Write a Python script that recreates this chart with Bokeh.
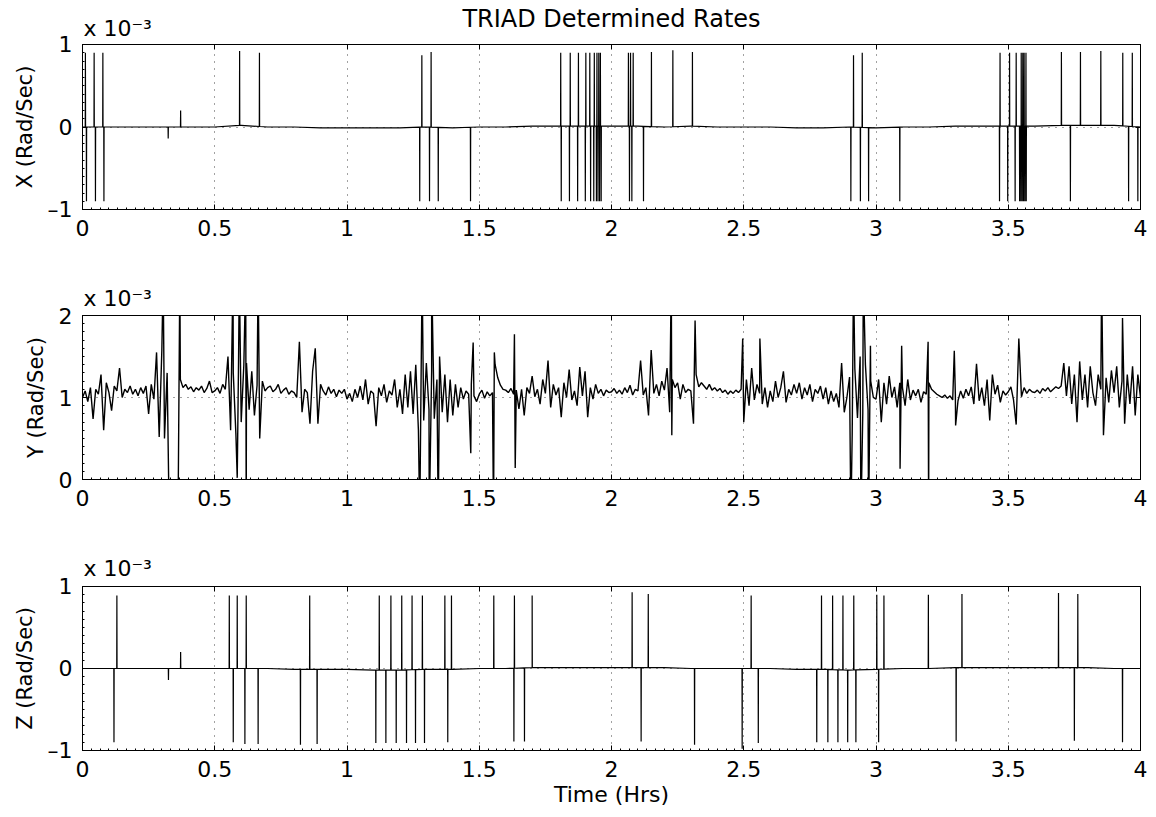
import numpy as np
from bokeh.plotting import figure
from bokeh.models import Range1d, FixedTicker, LinearAxis, Title
from bokeh.layouts import column
from bokeh.embed import file_html
from bokeh.resources import INLINE

# ---------------- data (rates in units of 1e-3 rad/s, time in hours) ----------------
BASE_T = [round(0.1 * i, 1) for i in range(41)]

X_base = [0, 0, 0, 0, 0, 0, 0.02, 0, 0, -0.01, -0.01, -0.01, -0.01, 0.0, -0.01, 0, 0,
          0.01, 0.01, 0.01, 0.01, 0.01, 0.0, 0.01, 0, 0, 0, -0.01, -0.01, 0, -0.01, 0,
          0, 0.01, 0.01, 0.01, 0.01, 0.02, 0.02, 0.02, 0]
X_spike_t = [0.011, 0.044, 0.077, 0.594, 0.669, 1.283, 1.318, 1.808, 1.844, 1.875,
             1.903, 1.918, 1.935, 1.945, 1.952, 1.958, 2.064, 2.072, 2.082, 2.151,
             2.232, 2.306, 2.915, 2.948, 3.469, 3.505, 3.530, 3.549, 3.555, 3.560,
             3.567, 3.701, 3.773, 3.850, 3.933, 3.969,
             0.015, 0.049, 0.081, 1.275, 1.312, 1.345, 1.467, 1.810, 1.841, 1.872,
             1.901, 1.921, 1.933, 1.943, 1.949, 1.955, 1.961, 2.068, 2.077, 2.121,
             2.905, 2.941, 2.972, 3.090, 3.467, 3.498, 3.526, 3.543, 3.548, 3.553,
             3.558, 3.563, 3.568, 3.735, 3.955, 3.990,
             0.324, 0.371]
X_spike_v = [0.90, 0.90, 0.90, 0.92, 0.90, 0.87, 0.91, 0.90, 0.90, 0.90,
             0.90, 0.90, 0.90, 0.90, 0.90, 0.90, 0.90, 0.90, 0.90, 0.91,
             0.93, 0.91, 0.87, 0.90, 0.90, 0.90, 0.90, 0.90, 0.90, 0.90,
             0.90, 0.91, 0.91, 0.92, 0.90, 0.90,
             -0.90, -0.90, -0.90, -0.90, -0.90, -0.90, -0.90, -0.90, -0.90, -0.90,
             -0.90, -0.90, -0.90, -0.90, -0.90, -0.90, -0.90, -0.90, -0.90, -0.90,
             -0.90, -0.90, -0.90, -0.90, -0.90, -0.90, -0.90, -0.90, -0.90, -0.90,
             -0.90, -0.90, -0.90, -0.90, -0.90, -0.90,
             -0.14, 0.20]

Z_base = [0, 0, 0, 0, 0, 0, 0, 0, -0.01, -0.01, -0.01, -0.02, -0.02, -0.01, -0.01, 0,
          0, 0.01, 0.01, 0.01, 0.01, 0.01, 0.01, 0, 0, 0, 0, -0.01, -0.01, -0.02, -0.01,
          0, 0, 0.01, 0.01, 0.01, 0.01, 0.01, 0.01, 0.0, 0]
Z_spike_t = [0.130, 0.555, 0.585, 0.619, 0.859, 1.122, 1.166, 1.207, 1.246, 1.285,
             1.370, 1.395, 1.555, 1.633, 1.700, 2.078, 2.139, 2.528, 2.794, 2.836,
             2.875, 2.916, 3.003, 3.030, 3.198, 3.325, 3.690, 3.763,
             0.119, 0.570, 0.614, 0.664, 0.824, 0.887, 1.109, 1.147, 1.186, 1.225,
             1.259, 1.293, 1.381, 1.631, 1.671, 2.112, 2.314, 2.494, 2.555, 2.776,
             2.818, 2.856, 2.893, 2.924, 3.010, 3.303, 3.750, 3.932,
             0.325, 0.371]
Z_spike_v = [0.89, 0.89, 0.89, 0.89, 0.89, 0.89, 0.89, 0.89, 0.89, 0.89,
             0.89, 0.89, 0.89, 0.89, 0.89, 0.93, 0.91, 0.89, 0.89, 0.89,
             0.89, 0.89, 0.90, 0.89, 0.90, 0.91, 0.92, 0.91,
             -0.90, -0.90, -0.92, -0.92, -0.93, -0.92, -0.91, -0.91, -0.91, -0.91,
             -0.91, -0.91, -0.90, -0.89, -0.89, -0.89, -0.93, -0.98, -0.91, -0.90,
             -0.90, -0.90, -0.90, -0.90, -0.90, -0.89, -0.88, -0.90,
             -0.14, 0.20]

# Y rate, sampled every 0.01 h (one row per 0.1 h)
Y_rows = [
    [1.00, 1.08, 0.95, 1.12, 0.74, 1.10, 1.04, 1.28, 0.60, 1.18],
    [1.06, 0.84, 1.14, 1.08, 1.36, 1.00, 1.10, 1.06, 1.14, 1.04],
    [1.10, 1.02, 1.12, 1.05, 1.14, 0.80, 1.16, 0.98, 1.55, 0.52],
    [1.58, 0.50, 1.30, -1.0, -1.0, -1.0, -1.0, 1.22, 1.12, 1.16],
    [1.10, 1.13, 1.07, 1.12, 1.09, 1.14, 1.06, 1.11, 1.20, 1.06],
    [1.08, 1.12, 1.05, 1.16, 1.10, 1.50, 0.60, 1.30, 0.55, 1.45],
    [0.70, 1.40, 1.42, 0.85, 1.32, 0.78, 1.15, 0.50, 1.20, 1.08],
    [1.12, 1.14, 1.07, 1.10, 1.16, 1.05, 1.09, 1.12, 1.04, 1.08],
    [1.06, 1.00, 1.68, 0.82, 1.10, 1.06, 0.68, 1.32, 1.60, 0.68],
    [1.16, 1.08, 1.03, 1.13, 1.05, 1.10, 1.01, 1.09, 1.05, 1.10],
    [0.98, 1.05, 0.95, 1.10, 1.00, 1.14, 0.97, 1.22, 0.92, 1.08],
    [1.05, 0.65, 1.12, 1.02, 1.16, 0.94, 1.08, 1.03, 1.22, 0.88],
    [1.10, 0.80, 1.28, 0.88, 1.32, 0.80, 1.40, 0.60, 1.20, 0.72],
    [1.42, 0.85, 1.32, 0.74, 1.22, 1.50, 0.82, 1.28, 0.70, 1.22],
    [0.78, 1.16, 0.88, 1.12, 0.98, 1.08, 1.04, 1.16, 1.02, 0.95],
    [1.04, 1.09, 0.99, 1.07, 1.02, 1.06, 1.40, 1.24, 1.15, 1.10],
    [1.09, 1.06, 1.11, 1.04, 1.09, 0.86, 1.10, 0.78, 1.12, 1.05],
    [1.26, 1.01, 1.10, 0.92, 1.22, 1.05, 1.45, 0.88, 1.16, 1.03],
    [1.12, 0.76, 1.18, 1.00, 1.34, 0.97, 1.08, 0.90, 1.37, 1.02],
    [1.32, 0.76, 1.12, 0.98, 1.16, 1.05, 1.10, 1.02, 1.09, 1.06],
    [1.07, 1.11, 1.05, 1.09, 1.04, 1.12, 1.06, 1.15, 1.03, 1.10],
    [1.08, 1.45, 1.03, 1.12, 0.78, 1.58, 1.05, 1.16, 1.02, 1.20],
    [1.09, 1.36, 0.82, 1.22, 1.12, 1.18, 0.98, 1.16, 1.06, 1.10],
    [1.08, 0.68, 1.28, 1.13, 1.18, 1.14, 1.10, 1.16, 1.09, 1.12],
    [1.08, 1.11, 1.06, 1.09, 1.04, 1.08, 1.05, 1.09, 1.06, 1.10],
    [0.70, 1.22, 0.90, 1.36, 0.97, 1.16, 1.05, 0.92, 1.12, 0.88],
    [1.08, 0.95, 1.20, 1.00, 1.12, 1.32, 0.94, 1.10, 1.03, 1.16],
    [1.05, 1.18, 0.98, 1.12, 1.03, 1.16, 0.95, 1.10, 1.05, 1.14],
    [0.98, 1.12, 0.92, 1.08, 0.95, 1.05, 0.88, 1.42, 0.82, 1.00],
    [1.25, 0.55, 1.35, 0.75, 1.50, 0.80, 1.40, 0.85, 1.20, 1.00],
    [0.98, 1.22, 0.70, 1.18, 0.92, 1.26, 1.00, 1.13, 0.88, 1.18],
    [1.12, 0.90, 1.22, 0.97, 1.09, 1.02, 1.10, 0.94, 1.07, 1.04],
    [1.18, 1.10, 1.07, 1.04, 1.02, 1.00, 1.03, 0.99, 1.02, 0.97],
    [1.04, 0.96, 1.08, 0.99, 1.10, 1.02, 1.13, 0.92, 1.41, 0.96],
    [1.12, 0.90, 1.22, 0.72, 1.28, 1.04, 1.15, 0.94, 1.08, 1.03],
    [1.07, 1.13, 0.97, 0.67, 1.72, 1.01, 1.12, 1.05, 1.10, 1.07],
    [1.06, 1.09, 1.05, 1.11, 1.08, 1.12, 1.07, 1.10, 1.13, 1.11],
    [1.14, 1.42, 1.02, 1.38, 0.92, 1.28, 0.70, 1.44, 0.97, 1.28],
    [0.88, 1.38, 1.06, 0.90, 1.28, 1.10, 0.54, 1.24, 0.94, 1.33],
    [1.06, 1.38, 0.88, 1.20, 0.68, 1.28, 0.92, 1.38, 0.78, 1.28],
]
Y_last = 1.00
Y_event_t = [0.305, 0.368, 0.569, 0.585, 0.593, 0.617, 0.619, 0.664,
             1.275, 1.284, 1.311, 1.320, 1.345, 1.468, 1.477, 1.554, 1.557,
             1.633, 1.636, 2.226, 2.228, 2.316, 2.496, 2.561,
             2.905, 2.915, 2.943, 2.952, 2.972, 2.979, 3.091, 3.097,
             3.197, 3.199, 3.296, 3.301, 3.853, 3.932]
Y_event_v = [2.5, 2.5, 2.5, 0.02, 2.5, 2.5, -0.5, 2.5,
             -0.5, 2.5, -0.5, 2.5, -0.5, 0.32, 1.67, -0.5, 1.55,
             1.77, 0.14, 2.5, 0.54, 1.94, 1.72, 1.72,
             -0.5, 2.5, -0.5, 2.5, -0.5, 1.63, 0.13, 1.63,
             1.68, -0.5, 1.57, 0.66, 2.5, 1.97]

X_TICKS = [0, 0.5, 1, 1.5, 2, 2.5, 3, 3.5, 4]
X_TICK_LABELS = ["0", "0.5", "1", "1.5", "2", "2.5", "3", "3.5", "4"]
SCALE_TEXT = "x 10\u207b\u00b3"
TITLE_TEXT = "TRIAD Determined Rates"

# ---------------- build series ----------------
def spike_series(base_t, base_v, st, sv, eps=0.0006):
    pts = list(zip(base_t, base_v))
    for t, v in zip(st, sv):
        b = float(np.interp(t, base_t, base_v))
        pts += [(t - eps, b), (t, v), (t + eps, b)]
    pts.sort(key=lambda q: q[0])
    return [q[0] for q in pts], [q[1] for q in pts]

xt, xv = spike_series(BASE_T, X_base, X_spike_t, X_spike_v)
zt, zv = spike_series(BASE_T, Z_base, Z_spike_t, Z_spike_v)

y_vals = [v for row in Y_rows for v in row] + [Y_last]
y_times = [i / 100 for i in range(len(y_vals))]
ypts = sorted(list(zip(y_times, y_vals)) + list(zip(Y_event_t, Y_event_v)), key=lambda q: q[0])
yt = [q[0] for q in ypts]
yv = [q[1] for q in ypts]

FONT = "DejaVu Sans"


def style_axis(ax, ticker, overrides):
    ax.ticker = ticker
    ax.axis_line_color = "black"
    ax.axis_line_width = 1
    ax.major_tick_in = 5
    ax.major_tick_out = 0
    ax.minor_tick_in = 2
    ax.minor_tick_out = 0
    ax.major_tick_line_color = "black"
    ax.minor_tick_line_color = "black"
    ax.major_label_overrides = overrides
    ax.major_label_text_font = FONT
    ax.major_label_text_font_size = "22px"
    ax.major_label_text_color = "black"
    ax.major_label_standoff = 10


def tick_only_axis(positions):
    # an axis with no labels: the tick marks are given as minor ticks
    ax = LinearAxis(ticker=FixedTicker(ticks=[], minor_ticks=positions))
    ax.axis_line_color = "black"
    ax.major_tick_in = 0
    ax.major_tick_out = 0
    ax.minor_tick_in = 5
    ax.minor_tick_out = 0
    ax.minor_tick_line_color = "black"
    ax.major_label_standoff = 0
    return ax


def make_fig(fh, top, bottom, yr, yticks, ylabels, ylabel, t, v, scale_standoff,
             xlabel=None, title=None):
    p = figure(frame_width=1058, frame_height=fh, x_range=Range1d(0, 4),
               y_range=Range1d(yr[0], yr[1]), output_backend="svg", toolbar_location=None,
               min_border_left=82, min_border_right=16, min_border_top=top,
               min_border_bottom=bottom, background_fill_color="white",
               border_fill_color="white")
    xticker = FixedTicker(ticks=X_TICKS, minor_ticks=[i / 30 for i in range(121)])
    yticker = FixedTicker(ticks=yticks, minor_ticks=[yr[0] + 0.1 * i for i in range(21)])
    xo = {}
    for tk, lb in zip(X_TICKS, X_TICK_LABELS):
        xo[tk] = lb
    yo = {}
    for tk, lb in zip(yticks, ylabels):
        yo[tk] = lb
    style_axis(p.xaxis[0], xticker, xo)
    style_axis(p.yaxis[0], yticker, yo)
    p.yaxis[0].axis_label = ylabel
    p.yaxis[0].axis_label_text_font = FONT
    p.yaxis[0].axis_label_text_font_size = "21px"
    p.yaxis[0].axis_label_text_font_style = "normal"
    p.yaxis[0].axis_label_text_color = "black"
    p.yaxis[0].axis_label_standoff = 8
    if xlabel:
        p.xaxis[0].axis_label = xlabel
        p.xaxis[0].axis_label_text_font = FONT
        p.xaxis[0].axis_label_text_font_size = "22px"
        p.xaxis[0].axis_label_text_font_style = "normal"
        p.xaxis[0].axis_label_text_color = "black"
        p.xaxis[0].axis_label_standoff = 2

    p.add_layout(tick_only_axis(X_TICKS), "above")
    p.add_layout(tick_only_axis(list(yticks)), "right")

    p.add_layout(Title(text=SCALE_TEXT, align="left", offset=1, vertical_align="bottom",
                       standoff=scale_standoff, text_font=FONT, text_font_size="22px",
                       text_font_style="normal", text_color="black"), "above")
    if title:
        p.add_layout(Title(text=title, align="center", vertical_align="bottom",
                           standoff=-46, text_font=FONT, text_font_size="24px",
                           text_font_style="normal", text_color="black"), "above")

    p.xgrid.ticker = xticker
    p.ygrid.ticker = yticker
    for g in (p.xgrid[0], p.ygrid[0]):
        g.grid_line_color = "#444444"
        g.grid_line_dash = "1 6"
        g.grid_line_width = 1
    p.outline_line_color = "black"
    p.outline_line_alpha = 1
    p.outline_line_width = 1
    return p


p1 = make_fig(165, 44, 46, (-1, 1), [-1, 0, 1], ["\u20131", "0", "1"], "X (Rad/Sec)",
              xt, xv, 8, title=TITLE_TEXT)
p1.line(xt, xv, line_color="black", line_width=1.2)
p2 = make_fig(164, 60, 46, (0, 2), [0, 1, 2], ["0", "1", "2"], "Y (Rad/Sec)", yt, yv, 9)
p2.line(yt, yv, line_color="black", line_width=1.4)
p3 = make_fig(164, 61, 62, (-1, 1), [-1, 0, 1], ["\u20131", "0", "1"], "Z (Rad/Sec)",
              zt, zv, 11, xlabel="Time (Hrs)")
p3.line(zt, zv, line_color="black", line_width=1.2)

layout = column(p1, p2, p3)
open("out.html", "w").write(file_html(layout, INLINE))
